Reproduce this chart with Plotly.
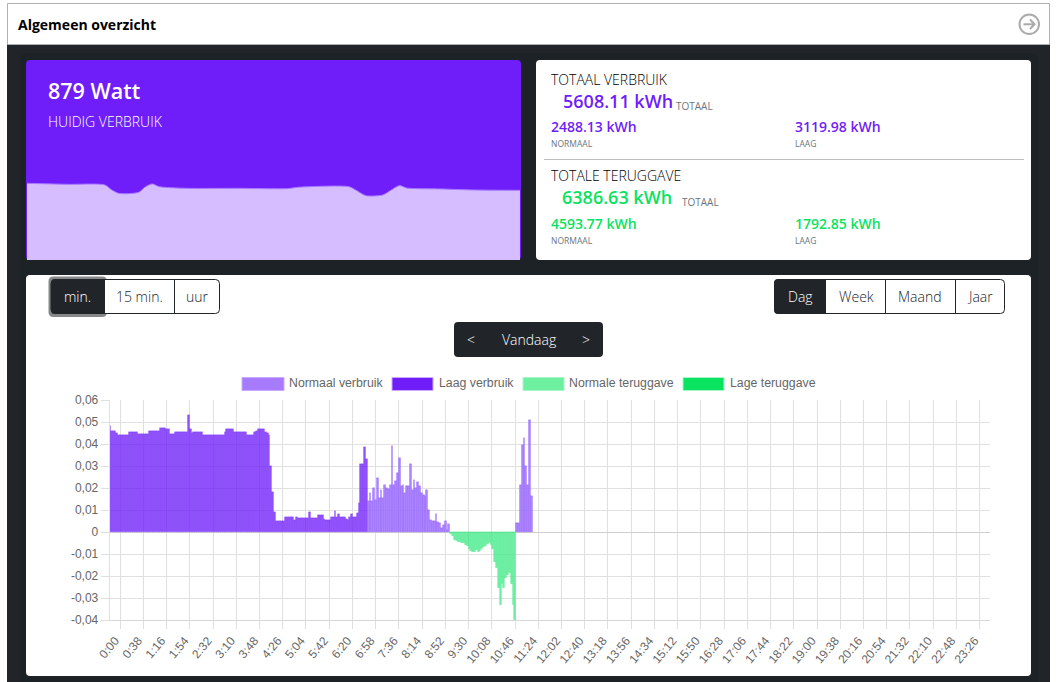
import plotly.graph_objects as go

W, H = 1059, 682

# Grafiekdata, 3 minuten per staaf
SLOT = 3
LAAG_VERBRUIK = [
    .0483, .0457, .0457, .0457, .0450, .0442, .0441, .0441, .0442, .0442, .0443, .0454, .0454, .0454, .0455, .0454,
    .0445, .0444, .0444, .0444, .0444, .0445, .0459, .0459, .0459, .0459, .0458, .0459, .0472, .0471, .0471, .0470,
    .0468, .0445, .0445, .0444, .0453, .0454, .0454, .0454, .0455, .0454, .0454, .0532, .0470, .0448, .0453, .0453,
    .0453, .0453, .0453, .0441, .0441, .0441, .0441, .0441, .0441, .0441, .0441, .0441, .0441, .0441, .0441, .0455,
    .0468, .0468, .0468, .0468, .0456, .0455, .0455, .0455, .0455, .0455, .0455, .0442, .0442, .0442, .0443, .0454,
    .0458, .0468, .0468, .0468, .0467, .0455, .0452, .0440, .0300, .0180, .0090, .0052, .0052, .0052, .0052, .0052,
    .0066, .0067, .0067, .0067, .0067, .0053, .0070, .0062, .0064, .0064, .0063, .0064, .0064, .0089, .0064, .0064,
    .0063, .0064, .0077, .0077, .0077, .0060, .0053, .0053, .0055, .0070, .0070, .0094, .0070, .0083, .0070, .0070,
    .0070, .0060, .0053, .0070, .0083, .0070, .0070, .0086, .0130, .0311, .0311, .0386, .0333,
]
NORMAAL_OCHTEND = [
    .0139, .0177, .0139, .0200, .0147, .0245, .0155, .0192, .0155, .0215, .0200, .0195, .0215, .0392, .0215, .0230,
    .0268, .0336, .0208, .0215, .0177, .0208, .0208, .0311, .0192, .0238, .0200, .0226, .0208, .0177, .0170, .0162,
    .0192, .0102, .0056, .0048, .0048, .0083, .0044, .0041, .0018, .0033, .0048, .0011, .0035,
]
NORMALE_TERUGGAVE = [
    -.0010, -.0018, -.0036, -.0041, -.0044, -.0046, -.0048, -.0052, -.0059, -.0065, -.0078, -.0088, -.0091, -.0089,
    -.0082, -.0090, -.0085, -.0078, -.0070, -.0065, -.0055, -.0050, -.0058, -.0078, -.0135, -.0165, -.0255, -.0330,
    -.0235, -.0255, -.0210, -.0194, -.0188, -.0235, -.0330, -.0398,
]
NORMAAL_MIDDAG = [.0040, .0040, .0215, .0397, .0427, .0300, .0215, .0508, .0165]
LAGE_TERUGGAVE = []

TIJDEN = [
    "0:00", "0:38", "1:16", "1:54", "2:32", "3:10", "3:48", "4:26", "5:04", "5:42", "6:20", "6:58", "7:36",
    "8:14", "8:52", "9:30", "10:08", "10:46", "11:24", "12:02", "12:40", "13:18", "13:56", "14:34", "15:12",
    "15:50", "16:28", "17:06", "17:44", "18:22", "19:00", "19:38", "20:16", "20:54", "21:32", "22:10", "22:48", "23:26",
]
Y_WAARDEN = [0.06, 0.05, 0.04, 0.03, 0.02, 0.01, 0, -0.01, -0.02, -0.03, -0.04]
Y_LABELS = ["0,06", "0,05", "0,04", "0,03", "0,02", "0,01", "0", "-0,01", "-0,02", "-0,03", "-0,04"]

# Huidig verbruik, laatste uur
SPARK_SEC = [0, 297, 569, 619, 668, 742, 816, 866, 915, 965, 1163, 1534, 1905, 1979, 2350, 2400, 2474, 2598, 2660, 2721, 2771, 3018, 3266, 3600]
SPARK_WATT = [963, 950, 942, 879, 837, 833, 850, 921, 955, 921, 900, 900, 896, 913, 921, 879, 808, 816, 879, 934, 904, 892, 879, 875]

PAARS = "#6f1efa"
GROEN = "#0ae35f"
DONKER = "#212529"
SEGOE = "Open Sans"
ARIAL = "Liberation Sans"


def px(x):
    return x / W


def py(y):
    return 1 - y / H


shapes = []
annotations = []


def rect(x0, y0, x1, y1, fill, r=0, line=None, lw=1, left=True, right=True):
    rl = r if left else 0
    rr = r if right else 0
    path = f"M {px(x0 + rl)} {py(y0)} L {px(x1 - rr)} {py(y0)} "
    path += f"Q {px(x1)} {py(y0)} {px(x1)} {py(y0 + rr)} L {px(x1)} {py(y1 - rr)} "
    path += f"Q {px(x1)} {py(y1)} {px(x1 - rr)} {py(y1)} L {px(x0 + rl)} {py(y1)} "
    path += f"Q {px(x0)} {py(y1)} {px(x0)} {py(y1 - rl)} L {px(x0)} {py(y0 + rl)} "
    path += f"Q {px(x0)} {py(y0)} {px(x0 + rl)} {py(y0)} Z"
    shapes.append(dict(type="path", path=path, xref="paper", yref="paper", fillcolor=fill, layer="below",
                       line=dict(color=line or fill, width=lw if line else 0)))


def lijn(x0, y0, x1, y1, color, lw=1):
    shapes.append(dict(type="line", xref="paper", yref="paper", x0=px(x0), y0=py(y0), x1=px(x1), y1=py(y1),
                       layer="below", line=dict(color=color, width=lw)))


def tekst(x, y, s, size, color="#000", font=SEGOE, anchor="left", bold=False, weight=400):
    annotations.append(dict(x=px(x), y=py(y), xref="paper", yref="paper", text=f"<b>{s}</b>" if bold else s,
                            showarrow=False, xanchor=anchor, yanchor="middle", borderpad=0, borderwidth=0,
                            font=dict(family=font, size=size, color=color, weight=weight)))


# Pagina
rect(7, 44, 1050, 690, DONKER)
rect(20, 53, 1038, 690, "#1c2226", r=8)
rect(7.5, 3.5, 1049.5, 44.5, "#ffffff", line="#b0b0b0")
tekst(18, 24.5, "Algemeen overzicht", 14, bold=True)
shapes.append(dict(type="circle", xref="paper", yref="paper", x0=px(1019.5), x1=px(1039), y0=py(14.5), y1=py(34),
                   line=dict(color="#aaaaaa", width=2), layer="below"))
lijn(1023.5, 24.3, 1035, 24.3, "#aaaaaa", 2)
shapes.append(dict(type="path", xref="paper", yref="paper", layer="below", line=dict(color="#aaaaaa", width=2),
                   path=f"M {px(1030)} {py(19.5)} L {px(1034.5)} {py(24.3)} L {px(1030)} {py(29)}"))

# Kaarten
rect(26, 60, 521, 260, PAARS, r=4)
rect(536, 60, 1031, 260, "#ffffff", r=4)
rect(26, 275, 1031, 676, "#ffffff", r=4)

tekst(48, 90, "879 Watt", 21.5, "#ffffff", weight=600)
tekst(48, 121.5, "HUIDIG VERBRUIK", 14, "#ffffff", weight=300)

tekst(551, 79.5, "TOTAAL VERBRUIK", 14, weight=300)
tekst(563, 101, "5608.11 kWh", 18, PAARS, weight=600)
tekst(676, 106, "TOTAAL", 10, "#6c757d")
tekst(551, 126.5, "2488.13 kWh", 14, PAARS, weight=600)
tekst(795, 126.5, "3119.98 kWh", 14, PAARS, weight=600)
tekst(551, 143.5, "NORMAAL", 8.5, "#6c757d")
tekst(795, 143.5, "LAAG", 8.5, "#6c757d")
lijn(544, 159.5, 1024, 159.5, "#bdbdbd")
tekst(551, 175.5, "TOTALE TERUGGAVE", 14, weight=300)
tekst(562, 197, "6386.63 kWh", 18, GROEN, weight=600)
tekst(682, 202, "TOTAAL", 10, "#6c757d")
tekst(551, 223.5, "4593.77 kWh", 14, GROEN, weight=600)
tekst(795, 223.5, "1792.85 kWh", 14, GROEN, weight=600)
tekst(551, 240.5, "NORMAAL", 8.5, "#6c757d")
tekst(795, 240.5, "LAAG", 8.5, "#6c757d")

# Knoppen
rect(48.5, 276.5, 107, 317, "#858789", r=5)
rect(51, 279.5, 219.5, 313.5, "#ffffff", r=4, line=DONKER)
rect(51, 279, 105, 314, DONKER, r=4, right=False)
lijn(174.5, 279.5, 174.5, 313.5, DONKER)
tekst(77.5, 296.5, "min.", 14, "#ffffff", anchor="center", weight=300)
tekst(139.5, 296.5, "15 min.", 14, "#212529", anchor="center", weight=300)
tekst(197, 296.5, "uur", 14, "#212529", anchor="center", weight=300)

rect(774.5, 279.5, 1004.5, 313.5, "#ffffff", r=4, line=DONKER)
rect(774, 279, 826, 314, DONKER, r=4, right=False)
lijn(885.5, 279.5, 885.5, 313.5, DONKER)
lijn(955.5, 279.5, 955.5, 313.5, DONKER)
tekst(800, 296.5, "Dag", 14, "#ffffff", anchor="center", weight=300)
tekst(856, 296.5, "Week", 14, "#212529", anchor="center", weight=300)
tekst(920, 296.5, "Maand", 14, "#212529", anchor="center", weight=300)
tekst(980, 296.5, "Jaar", 14, "#212529", anchor="center", weight=300)

rect(454, 322, 603, 357, DONKER, r=4)
tekst(471, 339.5, "&lt;", 14, "#ffffff", anchor="center", weight=300)
tekst(529, 339.5, "Vandaag", 14, "#ffffff", anchor="center", weight=300)
tekst(586, 339.5, "&gt;", 14, "#ffffff", anchor="center", weight=300)

# Legenda
for x0, x1, kleur, rand, naam, tx in [
    (242, 284, "#a67bff", "#c8aaff", "Normaal verbruik", 289),
    (392, 433, PAARS, "#c8aaff", "Laag verbruik", 439),
    (523, 564, "#6ef0a0", "#a8f5c6", "Normale teruggave", 569),
    (683, 724, GROEN, "#a8f5c6", "Lage teruggave", 730),
]:
    rect(x0, 377.5, x1, 390.5, kleur, line=rand)
    tekst(tx, 383, naam, 12.3, "#666666", font=ARIAL)

fig = go.Figure()


def staven(start, waarden, kleur, rand, naam):
    fig.add_trace(go.Bar(
        x=[(start + i) * SLOT for i in range(len(waarden))], y=waarden, width=SLOT, name=naam,
        marker=dict(color=kleur, line=dict(color=rand, width=0.4)),
    ))


staven(0, LAAG_VERBRUIK, "rgba(111,30,250,0.78)", "rgba(111,30,250,0.5)", "Laag verbruik")
staven(141, NORMAAL_OCHTEND, "rgba(166,123,255,0.95)", "rgba(120,60,250,0.6)", "Normaal verbruik")
staven(186, NORMALE_TERUGGAVE, "rgba(80,235,145,0.85)", "rgba(10,227,95,0.3)", "Normale teruggave")
staven(222, NORMAAL_MIDDAG, "rgba(166,123,255,0.95)", "rgba(120,60,250,0.6)", "Normaal verbruik")
staven(0, LAGE_TERUGGAVE, GROEN, GROEN, "Lage teruggave")

fig.add_trace(go.Scatter(x=SPARK_SEC, y=SPARK_WATT, xaxis="x2", yaxis="y2", mode="lines", fill="tozeroy",
                         fillcolor="#d5bdff", line=dict(color="#a67bff", width=1, shape="spline", smoothing=0.7),
                         name="Huidig verbruik"))

grid = "#e0e0e0"
fig.update_layout(
    width=W, height=H, margin=dict(l=0, r=0, t=0, b=0, pad=0), autosize=False,
    paper_bgcolor="#ffffff", plot_bgcolor="rgba(0,0,0,0)", showlegend=False,
    barmode="overlay", bargap=0, shapes=shapes, annotations=annotations,
    xaxis=dict(
        domain=[px(109.7), px(990)], range=[0, 1440], automargin=False,
        tickmode="array", tickvals=[17 + 38 * i for i in range(len(TIJDEN))], ticktext=TIJDEN,
        tickangle=-50, ticks="outside", ticklen=8, tickcolor=grid, gridcolor=grid, showgrid=True, zeroline=False,
        ticklabelshift=-5,
        tickfont=dict(family=ARIAL, size=12, color="#666666"), showline=True, linecolor="#d8d8d8", anchor="y",
    ),
    yaxis=dict(
        domain=[py(620), py(400)], range=[-0.04, 0.06], automargin=False,
        tickmode="array", tickvals=Y_WAARDEN, ticktext=Y_LABELS,
        ticks="outside", ticklen=8, tickcolor=grid, gridcolor=grid, showgrid=True, zeroline=True,
        zerolinecolor="#cfcfcf", zerolinewidth=1, showline=True, linecolor=grid,
        tickfont=dict(family=ARIAL, size=12, color="#666666"), anchor="x",
    ),
    xaxis2=dict(domain=[px(27), px(520)], range=[0, 3600], visible=False, anchor="y2", automargin=False),
    yaxis2=dict(domain=[py(260), py(60)], range=[0, 2511], visible=False, anchor="x2", automargin=False),
)

fig.write_html("out.html", config=dict(displayModeBar=False),
               post_script="document.body.style.margin='0';document.body.style.overflow='hidden';")
